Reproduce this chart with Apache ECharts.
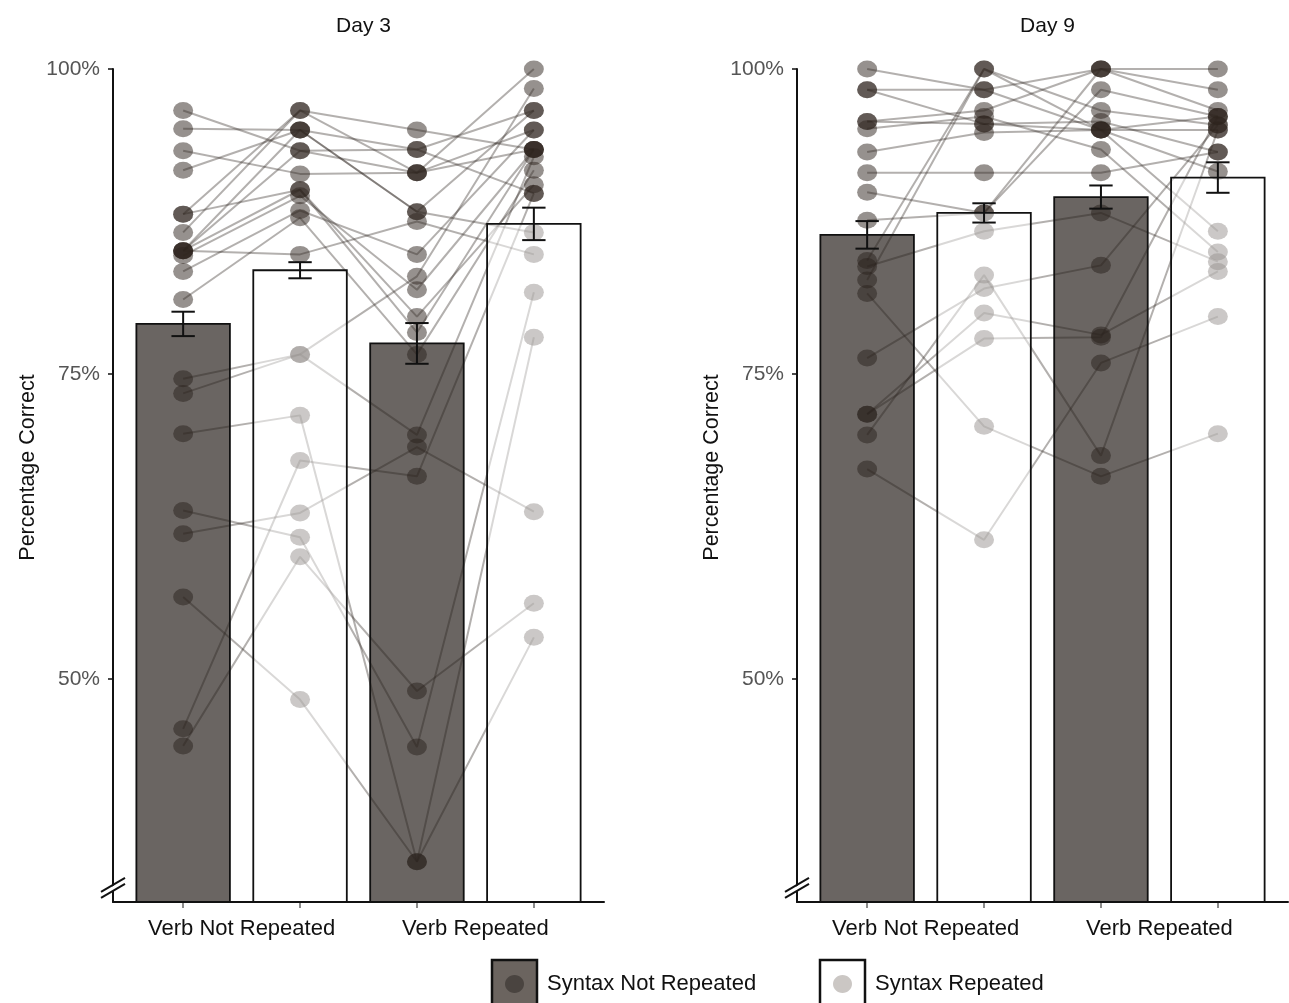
<!DOCTYPE html>
<html>
<head>
<meta charset="utf-8">
<script src="https://cdn.jsdelivr.net/npm/echarts@6/dist/echarts.min.js"></script>
<style>
html,body{margin:0;padding:0;background:#fff;}
#c{width:1289px;height:1003px;}
</style>
</head>
<body>
<div id="c"></div>
<script>
// ---------- DATA ----------
const panelTitles = ['Day 3', 'Day 9'];
const verbLabels = ['Verb Not Repeated', 'Verb Repeated'];
const legendLabels = ['Syntax Not Repeated', 'Syntax Repeated'];
const yTicks = [50, 75, 100];
const yMin = 31.7, yMax = 100;

// condition order: 1 = VNR/SNR, 2 = VNR/SR, 3 = VR/SNR, 4 = VR/SR
const day3Means = [79.1, 83.5, 77.5, 87.3];
const day3SE    = [1.0, 0.66, 1.67, 1.33];
const day9Means = [86.4, 88.2, 89.5, 91.1];
const day9SE    = [1.13, 0.79, 0.95, 1.25];

// per-participant scores (same index = same participant)
const day3Cond1 = [96.6, 95.1, 93.3, 91.7, 88.1, 88.1, 86.6, 85.1, 85.1, 85.1, 85.1, 84.7, 83.4, 81.1, 74.6, 73.4, 70.1, 63.8, 61.9, 56.7, 45.9, 44.5];
const day3Cond2 = [93.3, 95.0, 91.4, 95.0, 96.6, 90.1, 96.6, 95.0, 93.3, 90.1, 84.8, 89.6, 88.4, 87.8, 76.6, 76.6, 71.6, 61.6, 63.6, 48.3, 67.9, 60.0];
const day3Cond3 = [91.5, 93.4, 91.5, 88.3, 95.0, 79.7, 91.5, 88.3, 93.4, 78.4, 87.5, 81.9, 84.8, 76.6, 83.0, 70.0, 35.0, 44.4, 69.0, 35.0, 66.6, 49.0];
const day3Cond4 = [95.0, 89.8, 100, 96.6, 93.4, 90.5, 93.4, 86.6, 96.6, 93.4, 84.8, 93.4, 95.0, 91.7, 98.4, 92.8, 78.0, 81.7, 63.7, 53.4, 89.8, 56.2];

const day9Cond1 = [100, 98.3, 98.3, 95.7, 95.7, 95.1, 93.2, 91.5, 89.9, 87.6, 84.3, 83.8, 82.7, 81.6, 76.3, 71.7, 70.0, 67.2, 71.7];
const day9Cond2 = [98.3, 98.3, 95.5, 95.5, 96.6, 96.1, 94.8, 91.5, 88.2, 88.2, 100, 86.7, 100, 70.7, 82.0, 80.0, 83.1, 61.4, 77.9];
const day9Cond3 = [95.0, 100, 95.7, 95.0, 100, 93.4, 95.0, 91.5, 98.3, 100, 96.6, 88.2, 95.0, 66.6, 83.9, 78.2, 68.3, 75.9, 78.0];
const day9Cond4 = [95.0, 100, 93.2, 96.1, 96.6, 85.0, 91.6, 93.2, 96.1, 98.3, 95.4, 84.2, 86.7, 70.1, 95.4, 83.4, 95.0, 79.7, 96.1];

// ---------- STYLE ----------
const FONT = '"Liberation Sans", Arial, sans-serif';
const pointColor = 'rgba(45,35,30,0.5)';
const lineColor = 'rgba(45,35,30,0.36)';
const barFills = ['rgba(39,32,28,0.69)', 'rgba(255,255,255,0.5)', 'rgba(39,32,28,0.69)', 'rgba(255,255,255,0.5)'];

const chart = echarts.init(document.getElementById('c'), null, {renderer: 'canvas'});

const panels = [
  {means: day3Means, se: day3SE, conds: [day3Cond1, day3Cond2, day3Cond3, day3Cond4]},
  {means: day9Means, se: day9SE, conds: [day9Cond1, day9Cond2, day9Cond3, day9Cond4]}
];

const grids = [
  {left: 113, top: 69, width: 491, height: 833},
  {left: 797, top: 69, width: 491, height: 833}
];

const xAxes = [], yAxes = [], series = [], titles = [];
panels.forEach((p, g) => {
  titles.push({
    text: panelTitles[g],
    left: grids[g].left + grids[g].width / 2,
    textAlign: 'center',
    top: 11,
    textStyle: {fontFamily: FONT, fontSize: 21, fontWeight: 'normal', color: '#111'}
  });
  xAxes.push({
    gridIndex: g, type: 'value', min: 0.4, max: 4.6,
    axisLine: {show: true, lineStyle: {color: '#111', width: 2}},
    axisTick: {show: true, length: 6, customValues: [1, 2, 3, 4], lineStyle: {color: '#666', width: 1.5}},
    axisLabel: {
      show: true, customValues: [1.5, 3.5], margin: 16,
      formatter: v => verbLabels[v < 2.5 ? 0 : 1],
      fontFamily: FONT, fontSize: 22, color: '#111'
    },
    splitLine: {show: false}
  });
  yAxes.push({
    gridIndex: g, type: 'value', min: yMin, max: yMax,
    name: 'Percentage Correct', nameLocation: 'middle', nameGap: 74,
    nameTextStyle: {fontFamily: FONT, fontSize: 21.5, color: '#111', padding: [0, 0, 0, 36]},
    axisLine: {show: true, lineStyle: {color: '#111', width: 2}},
    axisTick: {show: true, length: 5, customValues: yTicks, lineStyle: {color: '#111', width: 1.5}},
    axisLabel: {
      show: true, customValues: yTicks, margin: 13,
      formatter: v => v + '%',
      fontFamily: FONT, fontSize: 21, color: '#555'
    },
    splitLine: {show: false}
  });

  // participant lines + points
  const n = p.conds[0].length;
  for (let i = 0; i < n; i++) {
    series.push({
      type: 'line', xAxisIndex: g, yAxisIndex: g, z: 2,
      data: p.conds.map((c, j) => [j + 1, c[i]]),
      symbol: 'circle', symbolSize: [20, 17], showSymbol: true,
      itemStyle: {color: pointColor, borderWidth: 0},
      lineStyle: {color: lineColor, width: 2},
      silent: true, animation: false
    });
  }

  // bars (drawn over points, semi-transparent)
  series.push({
    type: 'custom', xAxisIndex: g, yAxisIndex: g, z: 3, animation: false,
    encode: {x: 0, y: 1},
    data: p.means.map((m, j) => [j + 1, m]),
    renderItem: (params, api) => {
      const x = api.value(0), v = api.value(1);
      const a = api.coord([x - 0.4, v]);
      const b = api.coord([x + 0.4, yMin]);
      return {
        type: 'rect',
        shape: {x: a[0], y: a[1], width: b[0] - a[0], height: b[1] - a[1]},
        style: {fill: barFills[params.dataIndex], stroke: '#111', lineWidth: 1.8}
      };
    }
  });

  // error bars
  series.push({
    type: 'custom', xAxisIndex: g, yAxisIndex: g, z: 4, animation: false,
    encode: {x: 0, y: 1},
    data: p.means.map((m, j) => [j + 1, m, p.se[j]]),
    renderItem: (params, api) => {
      const x = api.value(0), m = api.value(1), e = api.value(2);
      const t = api.coord([x, m + e]);
      const b = api.coord([x, m - e]);
      const hw = api.size([0.2, 0])[0] / 2;
      const st = {stroke: '#111', lineWidth: 2, fill: null};
      return {
        type: 'group',
        children: [
          {type: 'line', shape: {x1: t[0], y1: t[1], x2: b[0], y2: b[1]}, style: st},
          {type: 'line', shape: {x1: t[0] - hw, y1: t[1], x2: t[0] + hw, y2: t[1]}, style: st},
          {type: 'line', shape: {x1: b[0] - hw, y1: b[1], x2: b[0] + hw, y2: b[1]}, style: st}
        ]
      };
    }
  });
});

chart.setOption({
  animation: false,
  backgroundColor: '#fff',
  title: titles,
  grid: grids,
  xAxis: xAxes,
  yAxis: yAxes,
  series: series
});

// decorations: axis break marks and legend
const deco = [];
[0, 1].forEach(g => {
  const c = chart.convertToPixel({xAxisIndex: g, yAxisIndex: g}, [0.4, 33.1]);
  const cx = c[0], cy = c[1];
  deco.push({
    type: 'polygon', z: 10,
    shape: {points: [[cx - 12, cy + 8], [cx + 12, cy - 6], [cx + 12, cy - 1], [cx - 12, cy + 13]]},
    style: {fill: '#fff'}
  });
  deco.push({type: 'line', z: 11, shape: {x1: cx - 12, y1: cy + 7, x2: cx + 12, y2: cy - 7}, style: {stroke: '#111', lineWidth: 2}});
  deco.push({type: 'line', z: 11, shape: {x1: cx - 12, y1: cy + 13, x2: cx + 12, y2: cy - 1}, style: {stroke: '#111', lineWidth: 2}});
});

// legend
const legendItems = [
  {x: 492, box: '#6b645f', dot: '#4a4440', label: legendLabels[0]},
  {x: 820, box: '#ffffff', dot: '#cbc7c4', label: legendLabels[1]}
];
legendItems.forEach(it => {
  deco.push({type: 'rect', z: 10, shape: {x: it.x, y: 960, width: 45, height: 50}, style: {fill: it.box, stroke: '#111', lineWidth: 2.5}});
  deco.push({type: 'ellipse', z: 11, shape: {cx: it.x + 22.5, cy: 984, rx: 9.5, ry: 9}, style: {fill: it.dot}});
  deco.push({type: 'text', z: 11, x: it.x + 55, y: 984, style: {text: it.label, fontFamily: FONT, fontSize: 22, fill: '#111', verticalAlign: 'middle', align: 'left'}});
});

chart.setOption({graphic: deco});
</script>
</body>
</html>
